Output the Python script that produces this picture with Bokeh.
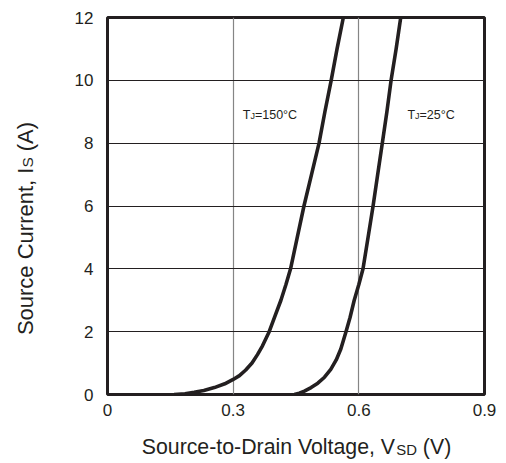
import math
from bokeh.plotting import figure
from bokeh.models import Range1d, FixedTicker, Label
from bokeh.layouts import row, column
from bokeh.embed import file_html
from bokeh.resources import INLINE

# ---- data ----
v_150 = [0.159, 0.185, 0.207, 0.230, 0.255, 0.280, 0.300, 0.315, 0.330, 0.345, 0.358, 0.370,
         0.386, 0.400, 0.414, 0.426, 0.437, 0.453, 0.469, 0.487, 0.505, 0.519, 0.534, 0.548, 0.563]
i_150 = [0.0, 0.02, 0.07, 0.13, 0.22, 0.34, 0.48, 0.60, 0.78, 1.00, 1.27, 1.55,
         2.0, 2.5, 3.0, 3.5, 4.0, 5.0, 6.0, 7.0, 8.0, 9.0, 10.0, 11.0, 12.0]
v_25 = [0.446, 0.458, 0.470, 0.486, 0.502, 0.518, 0.533, 0.546, 0.557, 0.569, 0.579, 0.589,
        0.600, 0.610, 0.622, 0.634, 0.645, 0.656, 0.667, 0.677, 0.689, 0.700]
i_25 = [0.0, 0.04, 0.11, 0.22, 0.36, 0.55, 0.80, 1.10, 1.45, 1.98, 2.45, 3.0,
        3.5, 4.0, 5.0, 6.0, 7.0, 8.0, 9.0, 10.0, 11.0, 12.0]
x_ticks = [0, 0.3, 0.6, 0.9]
x_tick_labels = ["0", "0.3", "0.6", "0.9"]
y_ticks = [0, 2, 4, 6, 8, 10, 12]
label_150 = ("T", "J", "=150°C")
label_25 = ("T", "J", "=25°C")
x_title = ("Source-to-Drain Voltage, V", "SD", " (V)")
y_title = ("Source Current, I", "S", " (A)")

INK = "#231f20"
FONT = "Liberation Sans"
X0, X1, Y0, Y1 = 0.0, 0.9, 0.0, 12.0
FW, FH = 377, 377
LEFT_W = 50            # width of the strip holding the vertical title
MAIN_W, MAIN_H = 450, 426
BOT_H = 36             # height of the strip holding the horizontal title
FULL_H = MAIN_H + BOT_H
FRAME_L = LEFT_W + 57  # page position of the frame's left edge
BASE_K = 0.4           # rendered alphabetic baseline sits this fraction of the font size lower

xr = Range1d(X0, X1)
yr = Range1d(Y0, Y1)
p = figure(width=MAIN_W, height=MAIN_H, output_backend="svg", toolbar_location=None,
           x_range=xr, y_range=yr,
           min_border_left=57, min_border_right=MAIN_W - 57 - FW, min_border_top=17,
           min_border_bottom=MAIN_H - 17 - FH)
p.background_fill_color = "white"
p.border_fill_color = "white"
p.outline_line_color = INK
p.outline_line_width = 3

p.xaxis.ticker = FixedTicker(ticks=x_ticks)
p.xaxis.major_label_overrides = {t: s for t, s in zip(x_ticks, x_tick_labels)}
p.yaxis.ticker = FixedTicker(ticks=y_ticks)
for ax in (p.xaxis, p.yaxis):
    ax.axis_line_color = None
    ax.major_tick_line_color = None
    ax.minor_tick_line_color = None
    ax.major_tick_out = 0
    ax.major_tick_in = 0
    ax.major_label_text_font = FONT
    ax.major_label_text_font_size = "17px"
    ax.major_label_text_color = INK
p.xaxis.major_label_standoff = 9
p.yaxis.major_label_standoff = 14

p.xgrid.ticker = FixedTicker(ticks=x_ticks)
p.xgrid.grid_line_color = "#858585"
p.xgrid.grid_line_width = 1.2
p.ygrid.ticker = FixedTicker(ticks=y_ticks)
p.ygrid.grid_line_color = INK
p.ygrid.grid_line_width = 1

p.line(v_150, i_150, line_color=INK, line_width=3.6, line_join="round")
p.line(v_25, i_25, line_color=INK, line_width=3.6, line_join="round")

# Arial / Liberation Sans advance widths (per 1000 em) for layout of mixed-size text
W = {'S': 667, 'o': 556, 'u': 556, 'r': 333, 'c': 500, 'e': 556, '-': 333, 't': 278,
     'D': 722, 'a': 556, 'i': 222, 'n': 556, ' ': 278, 'V': 667, 'l': 222, 'g': 556,
     ',': 278, '(': 333, ')': 333, 'C': 722, 'I': 278, 'A': 667, 'T': 611, 'J': 500,
     '=': 584, '°': 400}
def tw(s, size):
    return sum(W.get(c, 556) for c in s) * size / 1000.0

px_x = FW / (X1 - X0)
px_y = FH / (Y1 - Y0)

def pieces(fig, parts, sizes, x0, y0, per_x=1.0, per_y=1.0, vertical=False):
    """x0/y0: baseline start in data units; per_x/per_y: pixels per data unit."""
    cum = 0.0
    for s, sz in zip(parts, sizes):
        lead = len(s) - len(s.lstrip(" "))
        cum += tw(" " * lead, sz)          # leading blanks become an offset (SVG drops them)
        txt = s.lstrip(" ")
        fix = BASE_K * sz
        if vertical:
            xs, ys, ang = x0 - fix / per_x, y0 + cum / per_y, math.pi / 2
        else:
            xs, ys, ang = x0 + cum / per_x, y0 + fix / per_y, 0.0
        fig.add_layout(Label(x=xs, y=ys, text=txt, text_font=FONT,
                             text_font_size=f"{sz}px", text_color=INK, angle=ang,
                             text_align="left", text_baseline="alphabetic"))
        cum += tw(txt, sz)

# in-plot labels (baseline at page y ~119)
small = [12.5, 9, 12.5]
lab_y = (17 + FH - 119.3) / px_y
pieces(p, label_150, small, 0.323, lab_y, per_x=px_x, per_y=px_y)
pieces(p, label_25, small, 0.716, lab_y, per_x=px_x, per_y=px_y)

def strip(w, h, x_range, y_range):
    f = figure(width=w, height=h, output_backend="svg", toolbar_location=None,
               x_range=x_range, y_range=y_range,
               x_axis_type=None, y_axis_type=None, min_border=0)
    f.grid.visible = False
    f.outline_line_color = None
    f.background_fill_color = "white"
    f.border_fill_color = "white"
    return f

# horizontal title strip: shares the main x mapping
xsz = [21.3, 14.9, 21.3]
fx = strip(MAIN_W, BOT_H, xr, Range1d(0, BOT_H))
wx = sum(tw(s, z) for s, z in zip(x_title, xsz))
pieces(fx, x_title, xsz, (296 - wx / 2 - FRAME_L) / px_x, FULL_H - 455, per_x=px_x)

# vertical title strip: pixel coordinates (y up from the page bottom)
ysz = [22, 15.4, 22]
fy = strip(LEFT_W, FULL_H, Range1d(0, LEFT_W), Range1d(0, FULL_H))
wy = sum(tw(s, z) for s, z in zip(y_title, ysz))
pieces(fy, y_title, ysz, 33.5, FULL_H - (228 + wy / 2), vertical=True)

layout = row(fy, column(p, fx))
open("out.html", "w").write(file_html(layout, INLINE))
